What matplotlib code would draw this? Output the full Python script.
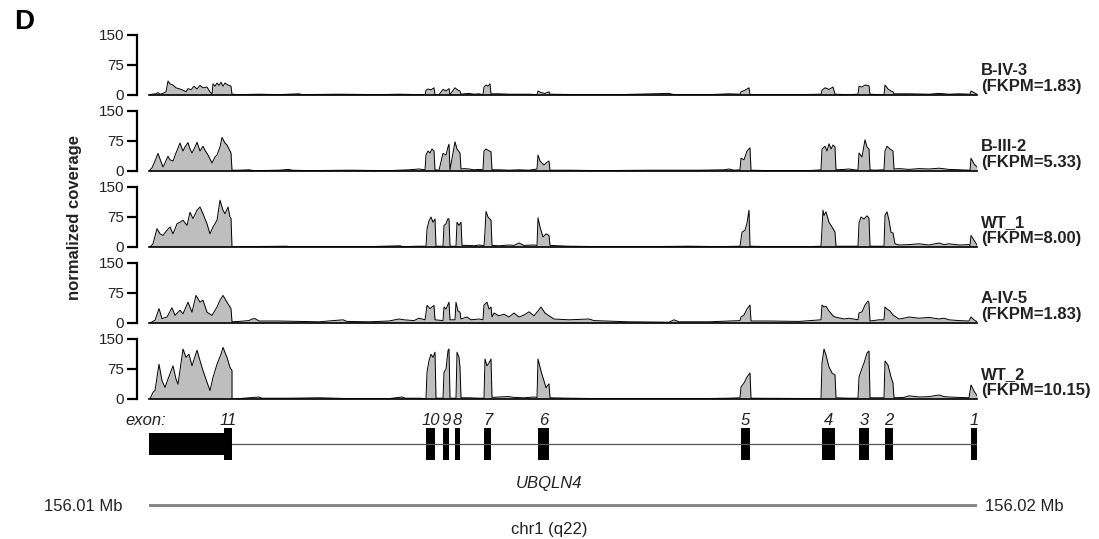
import matplotlib.pyplot as plt
from matplotlib.patches import Rectangle

plt.rcParams['font.family'] = ['Liberation Sans', 'DejaVu Sans']

# 샘플 정보
samples = ['B-IV-3', 'B-III-2', 'WT_1', 'A-IV-5', 'WT_2']
fkpm = ['1.83', '5.33', '8.00', '1.83', '10.15']

# coverage (bin, value) — bin ~12 bp, chr1 156.01 ~ 156.02 Mb
cov_biv3 = [(0, 0), (3, 2), (7, 3), (9, 6), (11, 2), (14, 4), (17, 8), (19, 35), (21, 28), (24, 25), (27, 18),
            (31, 15), (34, 12), (37, 8), (39, 16), (42, 13), (45, 22), (48, 15), (51, 24), (54, 18), (58, 20),
            (61, 8), (63, 2), (64, 28), (66, 22), (68, 30), (70, 24), (72, 32), (74, 22), (76, 30), (79, 25),
            (82, 22), (83, 2), (90, 1), (110, 2), (130, 1), (150, 3), (153, 1), (190, 2), (230, 1), (250, 2),
            (270, 1), (276, 1), (277, 12), (279, 15), (282, 13), (285, 18), (286, 1), (290, 1), (294, 14),
            (297, 10), (300, 16), (301, 1), (306, 18), (309, 12), (311, 10), (312, 2), (315, 3), (320, 4),
            (325, 2), (330, 3), (334, 1), (335, 20), (337, 25), (339, 22), (341, 28), (342, 3), (350, 3),
            (360, 2), (380, 2), (388, 1), (389, 10), (392, 6), (396, 4), (400, 8), (401, 2), (430, 1), (470, 1),
            (520, 4), (525, 1), (560, 1), (580, 3), (591, 2), (592, 8), (596, 12), (600, 18), (601, 1), (620, 1),
            (650, 1), (672, 2), (673, 12), (676, 18), (680, 14), (684, 20), (686, 2), (700, 1), (709, 2),
            (710, 22), (713, 20), (716, 25), (720, 23), (721, 2), (730, 1), (735, 1), (736, 25), (739, 15),
            (742, 10), (744, 8), (745, 3), (760, 3), (780, 2), (790, 4), (800, 2), (810, 3), (821, 2),
            (822, 10), (825, 6), (828, 2)]

cov_biii2 = [(0, 0), (3, 8), (6, 25), (9, 44), (11, 30), (14, 10), (16, 20), (19, 37), (21, 28), (24, 25),
             (27, 45), (31, 70), (34, 50), (36, 60), (39, 71), (41, 55), (43, 45), (46, 60), (48, 72), (51, 50),
             (54, 62), (56, 52), (59, 40), (61, 30), (63, 20), (66, 35), (68, 40), (71, 60), (73, 84), (76, 70),
             (78, 65), (81, 50), (82, 45), (83, 2), (90, 2), (100, 3), (105, 1), (130, 2), (140, 4), (143, 2),
             (160, 1), (200, 2), (240, 1), (260, 3), (270, 5), (276, 3), (277, 40), (279, 50), (281, 45),
             (283, 55), (285, 50), (286, 3), (290, 2), (294, 44), (297, 40), (299, 60), (300, 67), (301, 3),
             (306, 73), (308, 55), (311, 45), (312, 5), (315, 6), (320, 5), (325, 3), (330, 4), (334, 3),
             (335, 50), (337, 55), (339, 52), (342, 48), (343, 3), (350, 3), (360, 2), (370, 3), (380, 2),
             (388, 5), (389, 40), (391, 25), (395, 15), (398, 22), (400, 25), (401, 2), (420, 2), (450, 1),
             (500, 2), (550, 2), (575, 3), (580, 5), (585, 2), (591, 3), (592, 32), (595, 28), (598, 50),
             (601, 58), (602, 2), (620, 1), (660, 1), (672, 3), (673, 55), (676, 62), (678, 50), (680, 68),
             (682, 55), (684, 65), (686, 60), (687, 3), (695, 4), (700, 5), (705, 3), (709, 2), (710, 45),
             (713, 35), (716, 78), (718, 60), (720, 55), (721, 3), (725, 2), (735, 3), (736, 50), (738, 62),
             (741, 55), (744, 50), (745, 5), (750, 6), (760, 4), (770, 6), (780, 5), (790, 7), (800, 4),
             (810, 3), (821, 2), (822, 32), (825, 18), (828, 10)]

cov_wt1 = [(0, 0), (1, 0), (4, 8), (8, 46), (11, 33), (14, 29), (18, 42), (21, 50), (24, 33), (28, 58), (31, 62),
           (34, 67), (38, 54), (41, 87), (44, 71), (48, 92), (51, 100), (54, 83), (58, 58), (61, 33), (64, 50),
           (68, 67), (71, 117), (74, 92), (76, 83), (79, 100), (81, 75), (82, 72), (83, 0), (95, 1), (138, 2),
           (141, 1), (180, 1), (220, 1), (251, 3), (254, 1), (270, 2), (277, 2), (278, 45), (280, 65), (282, 75),
           (284, 62), (286, 70), (287, 2), (294, 2), (295, 54), (297, 58), (299, 71), (300, 70), (301, 2),
           (307, 2), (308, 62), (310, 54), (312, 62), (313, 4), (320, 4), (325, 3), (330, 5), (335, 3),
           (336, 40), (337, 89), (339, 75), (342, 67), (343, 4), (350, 3), (360, 5), (365, 4), (370, 10),
           (375, 4), (385, 5), (388, 4), (389, 73), (391, 50), (394, 25), (397, 33), (400, 29), (401, 4),
           (410, 3), (420, 2), (450, 1), (500, 1), (540, 2), (570, 1), (591, 2), (593, 37), (596, 42),
           (598, 60), (600, 92), (601, 2), (620, 1), (660, 1), (672, 2), (674, 92), (675, 79), (677, 88),
           (680, 62), (684, 46), (686, 37), (687, 2), (709, 2), (710, 60), (712, 75), (715, 70), (718, 78),
           (720, 72), (721, 2), (735, 2), (736, 79), (738, 88), (740, 67), (742, 37), (744, 35), (746, 8),
           (750, 5), (760, 6), (770, 8), (780, 5), (790, 10), (795, 6), (800, 8), (810, 5), (820, 6), (821, 3),
           (822, 29), (825, 17), (828, 5)]

cov_aiv5 = [(1, 0), (6, 7), (10, 36), (13, 11), (18, 15), (23, 38), (26, 19), (31, 32), (34, 23), (39, 52),
            (43, 27), (47, 69), (51, 52), (54, 57), (58, 27), (63, 19), (68, 40), (71, 57), (74, 69), (78, 52),
            (82, 36), (83, 3), (90, 4), (100, 6), (103, 10), (106, 11), (110, 5), (130, 5), (150, 4), (170, 3),
            (194, 8), (198, 4), (220, 3), (240, 5), (250, 10), (255, 8), (265, 6), (270, 12), (276, 8),
            (278, 44), (281, 36), (285, 44), (286, 8), (294, 6), (295, 40), (297, 35), (300, 52), (301, 8),
            (306, 8), (307, 52), (309, 30), (311, 27), (312, 10), (318, 15), (322, 8), (330, 10), (334, 8),
            (335, 45), (338, 52), (340, 35), (342, 40), (343, 15), (345, 25), (350, 18), (355, 22), (360, 15),
            (365, 25), (370, 15), (375, 20), (380, 28), (385, 18), (389, 30), (392, 40), (396, 25), (400, 18),
            (405, 10), (420, 8), (440, 10), (445, 6), (480, 3), (520, 2), (525, 8), (530, 3), (560, 3),
            (580, 5), (591, 6), (592, 15), (595, 20), (598, 35), (601, 45), (602, 5), (620, 5), (650, 4),
            (672, 8), (673, 45), (675, 40), (677, 42), (680, 30), (684, 18), (686, 15), (695, 10), (700, 12),
            (709, 8), (710, 25), (713, 28), (716, 45), (719, 55), (720, 50), (721, 5), (730, 8), (735, 8),
            (736, 40), (738, 35), (741, 30), (744, 20), (750, 10), (755, 12), (760, 15), (770, 12), (780, 14),
            (790, 10), (795, 12), (800, 8), (810, 6), (820, 5), (822, 15), (825, 8), (828, 3)]

cov_wt2 = [(1, 0), (4, 17), (6, 21), (10, 87), (13, 46), (16, 29), (19, 50), (24, 83), (27, 50), (29, 37),
           (34, 125), (37, 104), (40, 112), (43, 83), (48, 122), (51, 96), (54, 71), (58, 42), (61, 21), (64, 54),
           (68, 87), (72, 112), (74, 129), (78, 104), (81, 79), (83, 71), (83, 0), (90, 1), (110, 5), (113, 2),
           (140, 2), (171, 3), (200, 1), (240, 1), (253, 5), (256, 2), (270, 2), (277, 1), (278, 67), (280, 96),
           (282, 112), (284, 104), (286, 117), (287, 2), (294, 2), (295, 67), (297, 75), (299, 121), (300, 125),
           (301, 2), (307, 2), (308, 117), (310, 104), (311, 79), (312, 3), (320, 3), (330, 2), (335, 2),
           (336, 100), (338, 83), (340, 90), (342, 100), (343, 4), (350, 5), (360, 6), (365, 4), (375, 3),
           (385, 5), (388, 4), (389, 100), (392, 70), (395, 45), (397, 28), (399, 35), (400, 38), (401, 3),
           (420, 2), (450, 1), (500, 1), (550, 1), (580, 2), (591, 3), (592, 30), (595, 40), (598, 55),
           (601, 65), (602, 2), (672, 1), (673, 90), (675, 125), (677, 110), (680, 80), (683, 65), (686, 60),
           (687, 3), (700, 2), (709, 2), (710, 55), (712, 70), (715, 90), (718, 115), (720, 120), (721, 3),
           (735, 3), (736, 95), (739, 85), (742, 55), (744, 40), (745, 3), (755, 4), (760, 8), (770, 5),
           (780, 6), (790, 10), (795, 6), (800, 5), (820, 3), (822, 35), (825, 20), (828, 8)]

coverage = [cov_biv3, cov_biii2, cov_wt1, cov_aiv5, cov_wt2]

# 유전자 구조 (bin 단위)
region_start, region_end = 0, 828
utr_start, utr_end = 0, 75
exon_names = ['11', '10', '9', '8', '7', '6', '5', '4', '3', '2', '1']
exon_start = [75, 277, 294, 306, 335, 389, 592, 673, 710, 736, 822]
exon_end = [83, 286, 300, 311, 342, 400, 601, 686, 720, 744, 828]

W, H = 1099, 539
fig = plt.figure(figsize=(W / 100, H / 100), dpi=100)
left, width = 149 / W, 828 / W

# 커버리지 트랙
for i, cov in enumerate(coverage):
    x = [p[0] for p in cov]
    y = [p[1] for p in cov]
    bottom_px = 95 + 76 * i
    ax = fig.add_axes([left, 1 - bottom_px / H, width, 60 / H])
    ax.fill_between(x, y, color='#bebebe', lw=0)
    ax.plot(x, y, color='black', lw=0.7)
    ax.set_xlim(region_start, region_end)
    ax.set_ylim(0, 150)
    ax.spines['top'].set_visible(False)
    ax.spines['right'].set_visible(False)
    ax.spines['left'].set_position(('outward', 9))
    ax.spines['left'].set_bounds(0, 150)
    ax.spines['left'].set_linewidth(1.6)
    ax.spines['bottom'].set_linewidth(1.2)
    ax.set_xticks([])
    ax.set_yticks([0, 75, 150])
    ax.tick_params(axis='y', length=7, width=1.6, labelsize=11, pad=2, labelcolor='#222222')
    ax.text(832, 42, f'{samples[i]}\n(FKPM={fkpm[i]})', fontsize=12, fontweight='bold',
            ha='left', va='center', linespacing=1.05, color='#222222')

fig.text(74 / W, 1 - 217 / H, 'normalized coverage', rotation=90, fontsize=12,
         fontweight='bold', ha='center', va='center', color='#222222')
fig.text(14 / W, 1 - 22 / H, 'D', fontsize=20, fontweight='bold', ha='left', va='center')

# 유전자 모델 + 염색체 좌표
axg = fig.add_axes([left, 0, width, 134 / H])
axg.set_xlim(region_start, region_end)
axg.set_ylim(539, 405)
axg.axis('off')

axg.plot([exon_end[0], exon_end[-1]], [444, 444], color='#555555', lw=0.9)
axg.add_patch(Rectangle((utr_start, 433), utr_end - utr_start, 22, color='black', lw=0))
for name, s, e in zip(exon_names, exon_start, exon_end):
    axg.add_patch(Rectangle((s, 428), e - s, 32, color='black', lw=0))
    axg.text((s + e) / 2, 425, name, fontsize=12, style='italic', ha='center', va='baseline',
             color='#222222')
axg.text(17, 425, 'exon:', fontsize=12, style='italic', ha='right', va='baseline', color='#222222')
axg.text(400, 483, 'UBQLN4', fontsize=12, style='italic', ha='center', va='center', color='#222222')

axg.plot([region_start, region_end], [505, 505], color='#7f7f7f', lw=2)
axg.text(-27, 506, '156.01 Mb', fontsize=12, ha='right', va='center', color='#222222')
axg.text(836, 506, '156.02 Mb', fontsize=12, ha='left', va='center', color='#222222')
axg.text(400, 529, 'chr1 (q22)', fontsize=12, ha='center', va='center', color='#222222')

plt.savefig('out.png', dpi=100)
plt.close()
